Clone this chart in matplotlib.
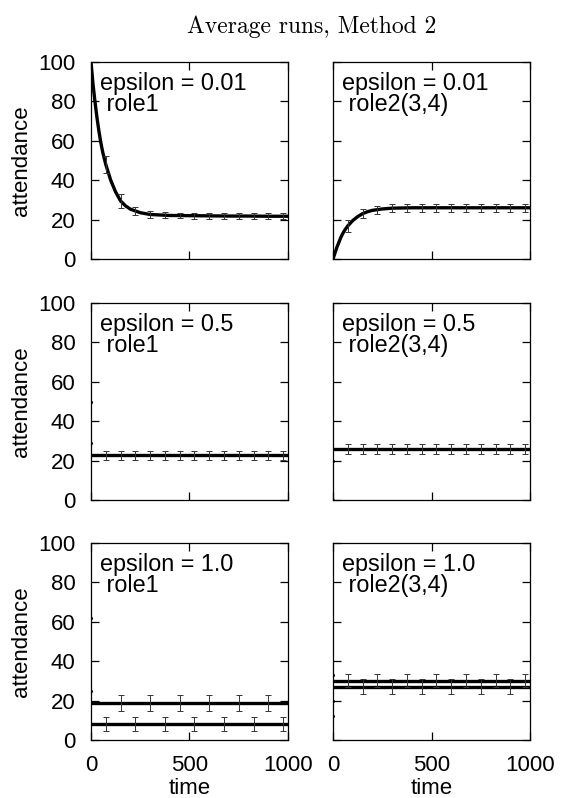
import numpy as np
import matplotlib
matplotlib.use("Agg")
import matplotlib.pyplot as plt

plt.rcParams['font.family'] = ['Liberation Sans', 'DejaVu Sans']
plt.rcParams['font.size'] = 16

# time points of the curves
T_CURVE = [0, 10, 20, 30, 40, 50, 60, 75, 100, 125, 150, 175, 200, 250, 300,
           400, 500, 600, 700, 800, 900, 1000]
T_FLAT = [2, 1000]

# error bar positions
EB_ALL = [75, 150, 225, 300, 375, 450, 525, 600, 675, 750, 825, 900, 975]
EB_ODD = [75, 225, 375, 525, 675, 825, 975]
EB_EVEN = [150, 300, 450, 600, 750, 900]

# epsilon = 0.01, role1
tl_y = [100, 89, 80, 72, 65, 59, 54, 48, 40, 34, 29.5, 27, 25.3, 23.5, 22.6,
        22.1, 22.0, 21.9, 21.8, 21.8, 21.7, 21.7]
tl_eb_y = [48, 29.5, 24.3, 22.6, 22.3, 22.1, 22.0, 21.9, 21.9, 21.8, 21.8, 21.7, 21.7]
tl_eb_e = [4.2, 3.4, 2.2, 1.8, 1.6, 1.5, 1.5, 1.5, 1.5, 1.5, 1.5, 1.5, 1.5]

# epsilon = 0.01, role2(3,4)
tr_y = [0, 3, 6, 8.5, 11, 13, 14.7, 16.8, 19.5, 21.5, 23, 24, 24.7, 25.4, 25.8,
        26, 26, 26, 26, 26, 26, 26]
tr_eb_y = [16.8, 23, 24.9, 25.8, 25.9, 26, 26, 26, 26, 26, 26, 26, 26]
tr_eb_e = [3.0, 2.2, 2.0, 2.0, 2.0, 2.0, 2.0, 2.0, 2.0, 2.0, 2.0, 2.0, 2.0]

# epsilon = 0.5
ml_y = [22.8, 22.8]
ml_dots_t = [0, 1]
ml_dots_y = [50, 29]
ml_eb_e = 2.3

mr_y = [25.9, 25.9]
mr_dots_t = [0, 1]
mr_dots_y = [0, 20]
mr_eb_e = 2.3

# epsilon = 1.0
bl_hi_y = [18.8, 18.8]
bl_lo_y = [8.1, 8.1]
bl_hi_e = 4.2
bl_lo_e = 3.5
bl_dots_t = [0, 1]
bl_dots_y = [62, 25]

br_hi_y = [30.2, 30.2]
br_lo_y = [27.0, 27.0]
br_hi_e = 3.5
br_lo_e = 3.8
br_dots_t = [0, 1, 2]
br_dots_y = [33, 20, 12]

LABELS = [["epsilon = 0.01\n role1", "epsilon = 0.01\n role2(3,4)"],
          ["epsilon = 0.5\n role1", "epsilon = 0.5\n role2(3,4)"],
          ["epsilon = 1.0\n role1", "epsilon = 1.0\n role2(3,4)"]]

W, H = 561, 798
fig = plt.figure(figsize=(W / 100, H / 100), dpi=100)

col_x = [91, 333]
row_top = [62, 303, 543]
pw, ph = 197, 197

LW = 2.4
EBKW = dict(fmt='none', ecolor='#333333', elinewidth=0.7, capsize=2.0, capthick=0.7)


def errbars(ax, t, y, e):
    ax.errorbar(t, y, yerr=e, **EBKW)


axes = []
for r in range(3):
    row = []
    for c in range(2):
        ax = fig.add_axes([col_x[c] / W, 1 - (row_top[r] + ph) / H, pw / W, ph / H])
        ax.set_xlim(0, 1000)
        ax.set_ylim(0, 100)
        ax.set_xticks([0, 500, 1000])
        ax.set_yticks([0, 20, 40, 60, 80, 100])
        ax.tick_params(direction='in', length=5.5, width=0.9, top=True, right=True,
                       pad=11, labelsize=16)
        for s in ax.spines.values():
            s.set_linewidth(0.9)
        if c == 1:
            ax.tick_params(labelleft=False)
        else:
            ax.set_ylabel("attendance", fontsize=16)
            ax.yaxis.set_label_coords(-0.30, 0.5)
        if r < 2:
            ax.tick_params(labelbottom=False)
        else:
            ax.set_xlabel("time", fontsize=16)
            ax.xaxis.set_label_coords(0.5, -0.195)
        ax.text(0.045, 0.95, LABELS[r][c], transform=ax.transAxes, fontsize=16.8,
                va='top', ha='left', linespacing=0.92)
        row.append(ax)
    axes.append(row)

# row 1
ax = axes[0][0]
ax.plot(T_CURVE, tl_y, color='black', lw=LW)
errbars(ax, EB_ALL, tl_eb_y, tl_eb_e)

ax = axes[0][1]
ax.plot(T_CURVE, tr_y, color='black', lw=LW)
errbars(ax, EB_ALL, tr_eb_y, tr_eb_e)

# row 2
ax = axes[1][0]
ax.plot(T_FLAT, ml_y, color='black', lw=LW)
ax.plot(ml_dots_t, ml_dots_y, 'k.', ms=2.5)
errbars(ax, EB_ALL, [ml_y[0]] * len(EB_ALL), ml_eb_e)

ax = axes[1][1]
ax.plot(T_FLAT, mr_y, color='black', lw=LW)
ax.plot(mr_dots_t, mr_dots_y, 'k.', ms=2.5)
errbars(ax, EB_ALL, [mr_y[0]] * len(EB_ALL), mr_eb_e)

# row 3
ax = axes[2][0]
ax.plot(T_FLAT, bl_hi_y, color='black', lw=LW)
ax.plot(T_FLAT, bl_lo_y, color='black', lw=LW)
ax.plot(bl_dots_t, bl_dots_y, 'k.', ms=2.5)
errbars(ax, EB_EVEN, [bl_hi_y[0]] * len(EB_EVEN), bl_hi_e)
errbars(ax, EB_ODD, [bl_lo_y[0]] * len(EB_ODD), bl_lo_e)

ax = axes[2][1]
ax.plot(T_FLAT, br_hi_y, color='black', lw=LW)
ax.plot(T_FLAT, br_lo_y, color='black', lw=LW)
ax.plot(br_dots_t, br_dots_y, 'k.', ms=2.5)
errbars(ax, EB_ODD, [br_hi_y[0]] * len(EB_ODD), br_hi_e)
errbars(ax, EB_EVEN, [br_lo_y[0]] * len(EB_EVEN), br_lo_e)

fig.text(312 / W, 1 - 33 / H, "Average runs, Method 2", family='cmr10',
         fontsize=17, ha='center', va='baseline')

fig.savefig("out.png", dpi=100)
